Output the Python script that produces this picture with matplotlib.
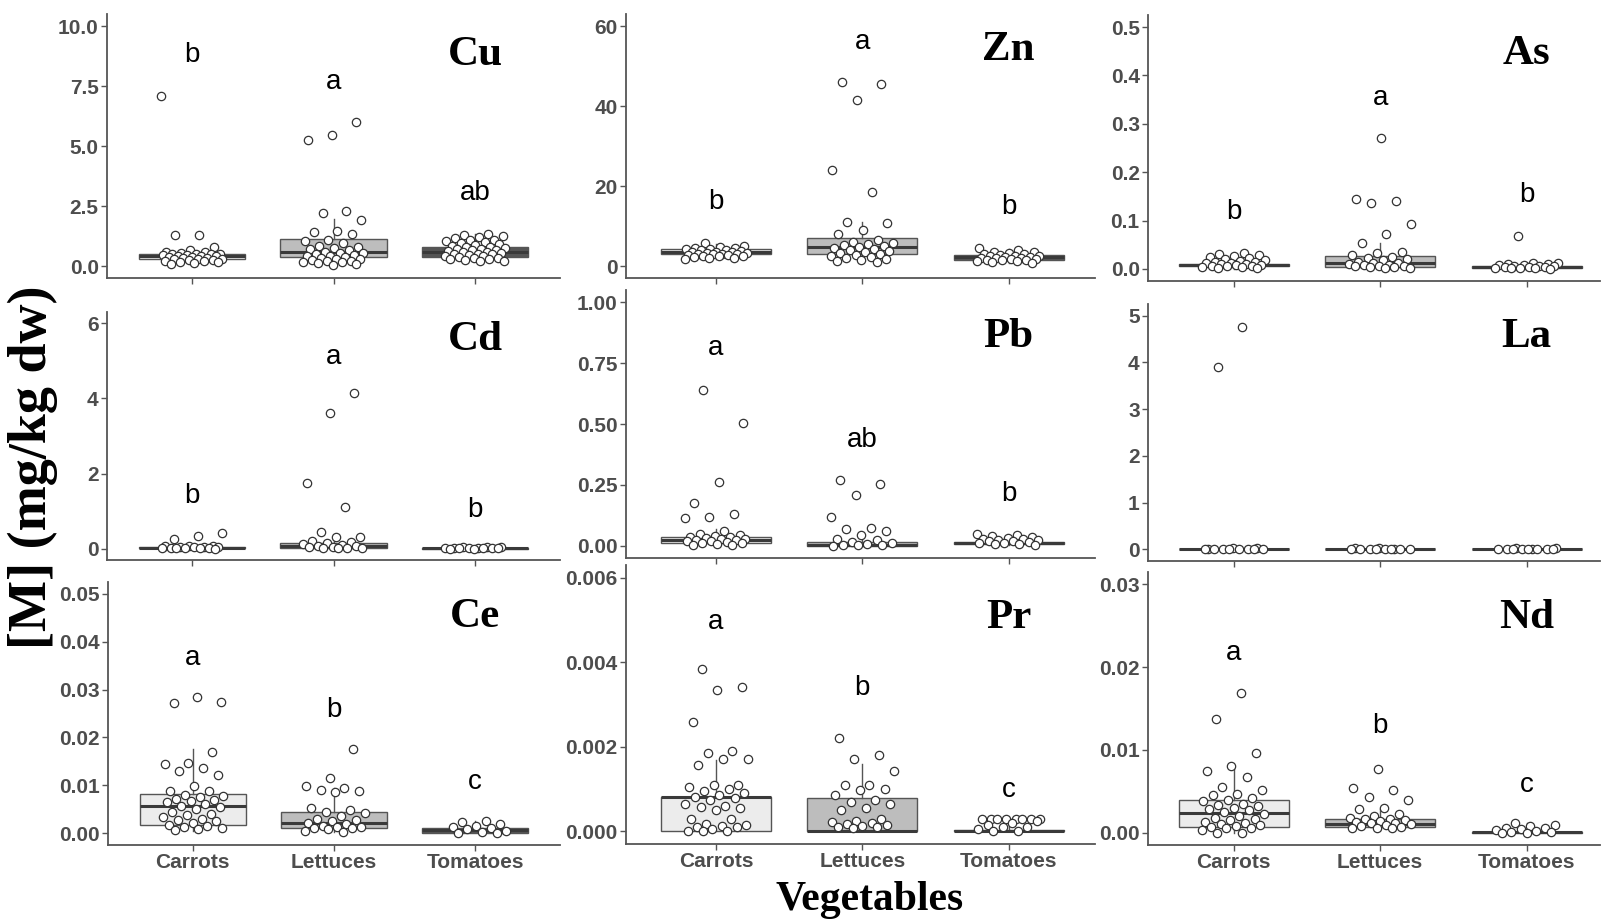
import numpy as np
import matplotlib
matplotlib.use('Agg')
import matplotlib.pyplot as plt

# categories and colours
vegetables = ['Carrots', 'Lettuces', 'Tomatoes']
box_fill = ['#ececec', '#bdbdbd', '#555555']

# --- Cu ---
cu_carrots = [7.1, 1.3, 1.28, 0.8, 0.65, 0.6, 0.58, 0.55, 0.52, 0.5, 0.5, 0.48, 0.45, 0.45, 0.42,
              0.4, 0.4, 0.38, 0.36, 0.35, 0.33, 0.3, 0.3, 0.28, 0.25, 0.25, 0.22, 0.2, 0.18, 0.15, 0.12, 0.1]
cu_lettuces = [6.0, 5.45, 5.25, 2.3, 2.2, 1.9, 1.45, 1.4, 1.35, 1.1, 1.05, 0.95, 0.85, 0.8, 0.75, 0.7,
               0.65, 0.6, 0.55, 0.55, 0.5, 0.45, 0.42, 0.4, 0.38, 0.35, 0.3, 0.28, 0.25, 0.22, 0.2,
               0.18, 0.15, 0.12, 0.1, 0.05]
cu_tomatoes = [1.35, 1.3, 1.25, 1.2, 1.15, 1.1, 1.1, 1.05, 1.0, 0.95, 0.9, 0.88, 0.85, 0.8, 0.78, 0.75,
               0.72, 0.7, 0.68, 0.65, 0.62, 0.6, 0.58, 0.55, 0.52, 0.5, 0.48, 0.45, 0.42, 0.4, 0.38,
               0.35, 0.32, 0.3, 0.28, 0.25, 0.22, 0.2]
cu_box = [[0.42, 0.28, 0.49, 0.1, 0.8], [0.6, 0.375, 1.11, 0.05, 1.94], [0.6, 0.39, 0.79, 0.2, 1.35]]
cu_letters = ['b', 'a', 'ab']
cu_letter_y = [8.8, 7.67, 3.04]

# --- Zn ---
zn_carrots = [5.8, 5.0, 4.8, 4.6, 4.5, 4.3, 4.2, 4.0, 3.9, 3.8, 3.6, 3.5, 3.4, 3.3, 3.2, 3.1, 3.0, 3.0,
              2.9, 2.8, 2.7, 2.6, 2.5, 2.4, 2.2, 2.0, 1.9, 1.7]
zn_lettuces = [46.0, 45.5, 41.5, 24.0, 18.5, 11.0, 10.8, 9.0, 8.0, 6.5, 6.0, 5.8, 5.5, 5.2, 5.0, 4.8,
               4.5, 4.2, 4.0, 3.8, 3.5, 3.2, 3.0, 2.8, 2.5, 2.2, 2.0, 1.8, 1.5, 1.2, 1.0]
zn_tomatoes = [4.5, 4.0, 3.6, 3.4, 3.2, 3.0, 2.9, 2.8, 2.6, 2.5, 2.4, 2.3, 2.2, 2.1, 2.0, 1.9, 1.8,
               1.7, 1.6, 1.5, 1.4, 1.3, 1.2, 1.0, 0.8]
zn_box = [[3.5, 2.9, 4.3, 1.7, 5.4], [4.75, 2.9, 7.0, 1.0, 11.0], [2.2, 1.6, 2.75, 0.8, 4.3]]
zn_letters = ['b', 'a', 'b']
zn_letter_y = [16, 56, 14.75]

# --- As ---
as_carrots = [0.033, 0.03, 0.028, 0.027, 0.025, 0.022, 0.02, 0.018, 0.017, 0.015, 0.014, 0.013, 0.012,
              0.011, 0.01, 0.009, 0.008, 0.007, 0.006, 0.005, 0.004, 0.003, 0.002, 0.001]
as_lettuces = [0.27, 0.145, 0.14, 0.137, 0.092, 0.072, 0.053, 0.035, 0.032, 0.028, 0.025, 0.022, 0.02,
               0.018, 0.015, 0.013, 0.012, 0.01, 0.009, 0.008, 0.007, 0.006, 0.005, 0.004, 0.003, 0.002, 0.001]
as_tomatoes = [0.069, 0.013, 0.012, 0.011, 0.01, 0.009, 0.008, 0.007, 0.006, 0.005, 0.004, 0.003, 0.003,
               0.002, 0.002, 0.001, 0.001, 0.0]
as_box = [[0.008, 0.0055, 0.0104, 0.0, 0.02], [0.0125, 0.0049, 0.0257, 0.0, 0.053],
          [0.0035, 0.0014, 0.0056, 0.0, 0.012]]
as_letters = ['b', 'a', 'b']
as_letter_y = [0.117, 0.354, 0.152]

# --- Cd ---
cd_carrots = [0.42, 0.35, 0.25, 0.08, 0.07, 0.06, 0.05, 0.05, 0.04, 0.04, 0.03, 0.03, 0.02, 0.02,
              0.01, 0.01, 0.005]
cd_lettuces = [4.15, 3.62, 1.75, 1.1, 0.45, 0.32, 0.3, 0.2, 0.17, 0.15, 0.12, 0.1, 0.08, 0.06, 0.05,
               0.04, 0.03, 0.02, 0.01, 0.01]
cd_tomatoes = [0.05, 0.04, 0.035, 0.03, 0.025, 0.02, 0.018, 0.015, 0.012, 0.01, 0.008, 0.005, 0.003]
cd_box = [[0.02, 0.01, 0.04, 0.0, 0.08], [0.07, 0.03, 0.15, 0.0, 0.3], [0.012, 0.005, 0.025, 0.0, 0.05]]
cd_letters = ['b', 'a', 'b']
cd_letter_y = [1.39, 5.09, 1.04]

# --- Pb ---
pb_carrots = [0.64, 0.505, 0.26, 0.175, 0.13, 0.12, 0.115, 0.06, 0.05, 0.045, 0.04, 0.038, 0.035,
              0.032, 0.03, 0.028, 0.025, 0.022, 0.02, 0.018, 0.015, 0.012, 0.01, 0.008, 0.005, 0.003]
pb_lettuces = [0.27, 0.255, 0.21, 0.12, 0.075, 0.07, 0.06, 0.045, 0.03, 0.025, 0.015, 0.01, 0.008,
               0.005, 0.003, 0.002, 0.001]
pb_tomatoes = [0.05, 0.045, 0.04, 0.035, 0.032, 0.03, 0.028, 0.025, 0.022, 0.02, 0.018, 0.015, 0.012,
               0.01, 0.008, 0.006, 0.004]
pb_box = [[0.023, 0.0096, 0.037, 0.0, 0.07], [0.003, 0.0, 0.014, 0.0, 0.03], [0.012, 0.007, 0.015, 0.003, 0.025]]
pb_letters = ['a', 'ab', 'b']
pb_letter_y = [0.81, 0.434, 0.213]

# --- La ---
la_carrots = [4.75, 3.9, 0.02, 0.02, 0.015, 0.015, 0.01, 0.01, 0.01, 0.008, 0.006, 0.005, 0.004]
la_lettuces = [0.02, 0.018, 0.015, 0.012, 0.01, 0.01, 0.008, 0.006, 0.005, 0.004, 0.003]
la_tomatoes = [0.02, 0.018, 0.015, 0.012, 0.01, 0.01, 0.008, 0.006, 0.005, 0.004, 0.003]
la_box = [[0.005, 0.002, 0.01, 0.0, 0.02], [0.005, 0.002, 0.01, 0.0, 0.02], [0.005, 0.002, 0.01, 0.0, 0.02]]
la_letters = ['', '', '']
la_letter_y = [0, 0, 0]

# --- Ce ---
ce_carrots = [0.0275, 0.0285, 0.0273, 0.017, 0.0147, 0.0145, 0.0137, 0.013, 0.0122, 0.0098, 0.0088,
              0.0087, 0.008, 0.0078, 0.0075, 0.0072, 0.007, 0.0067, 0.0065, 0.006, 0.0057, 0.0055,
              0.005, 0.0045, 0.004, 0.0038, 0.0033, 0.003, 0.0028, 0.0025, 0.002, 0.0017, 0.0015,
              0.0012, 0.001, 0.0008, 0.0007]
ce_lettuces = [0.0175, 0.0116, 0.0098, 0.0095, 0.009, 0.0087, 0.0085, 0.0052, 0.0048, 0.0045, 0.0042,
               0.0035, 0.003, 0.0027, 0.0025, 0.002, 0.0018, 0.0015, 0.0013, 0.0012, 0.0011, 0.001,
               0.0008, 0.0005, 0.0003]
ce_tomatoes = [0.0025, 0.0024, 0.0018, 0.0015, 0.0012, 0.001, 0.0008, 0.0005, 0.0003, 0.0001, 0.0]
ce_box = [[0.0057, 0.0016, 0.0082, 0.0005, 0.0175], [0.0021, 0.00105, 0.0045, 0.0003, 0.0094],
          [0.0006, 0.0001, 0.00105, 0.0, 0.0025]]
ce_letters = ['a', 'b', 'c']
ce_letter_y = [0.0366, 0.0257, 0.0107]

# --- Pr ---
pr_carrots = [0.00383, 0.00342, 0.00335, 0.00258, 0.0019, 0.00185, 0.00172, 0.0017, 0.00158, 0.0011,
              0.0011, 0.00105, 0.001, 0.00095, 0.0009, 0.00085, 0.0008, 0.00078, 0.00075, 0.00065,
              0.0006, 0.00058, 0.00055, 0.0005, 0.0003, 0.0003, 0.00018, 0.00015, 0.00012, 0.0001,
              0.0001, 0.00005, 0.0, 0.0, 0.0]
pr_lettuces = [0.0022, 0.0018, 0.0017, 0.00143, 0.0011, 0.0011, 0.001, 0.00098, 0.00085, 0.00075,
               0.0007, 0.00065, 0.00055, 0.0005, 0.0003, 0.00025, 0.00022, 0.0002, 0.00018, 0.00015,
               0.00012, 0.0001, 0.0001, 0.00008]
pr_tomatoes = [0.0003, 0.0003, 0.0003, 0.0003, 0.0003, 0.0003, 0.0003, 0.0003, 0.00025, 0.0002,
               0.00015, 0.0001, 0.0001, 0.00005, 0.0, 0.0]
pr_box = [[0.0008, 0.0, 0.00081, 0.0, 0.00168], [0.00001, 0.0, 0.00079, 0.0, 0.0016],
          [0.0, 0.0, 0.00002, 0.0, 0.0003]]
pr_letters = ['a', 'b', 'c']
pr_letter_y = [0.00496, 0.00339, 0.00097]

# --- Nd ---
nd_carrots = [0.0169, 0.0137, 0.0096, 0.008, 0.0075, 0.0067, 0.0055, 0.0052, 0.0047, 0.0045, 0.0042,
              0.004, 0.0038, 0.0035, 0.0033, 0.0032, 0.003, 0.0028, 0.0027, 0.0025, 0.0022, 0.002,
              0.0018, 0.0017, 0.0015, 0.0013, 0.0012, 0.001, 0.0009, 0.0008, 0.0007, 0.0006, 0.0005,
              0.0003, 0.0, 0.0]
nd_lettuces = [0.0077, 0.0054, 0.0052, 0.0043, 0.0039, 0.003, 0.0029, 0.0022, 0.002, 0.0018, 0.0017,
               0.0016, 0.0015, 0.0014, 0.0013, 0.0012, 0.0011, 0.001, 0.0009, 0.0008, 0.0007, 0.0006,
               0.0005, 0.0005]
nd_tomatoes = [0.0011, 0.0009, 0.0008, 0.0006, 0.0005, 0.0004, 0.0003, 0.0002, 0.0001, 0.0001, 0.0, 0.0]
nd_box = [[0.0024, 0.00073, 0.0039, 0.0, 0.008], [0.001, 0.00073, 0.0016, 0.0003, 0.0029],
          [0.00003, 0.0, 0.00006, 0.0, 0.0011]]
nd_letters = ['a', 'b', 'c']
nd_letter_y = [0.0217, 0.0129, 0.0057]

# y ticks per element
cu_ticks = [0, 2.5, 5, 7.5, 10];          cu_ticklabels = ['0.0', '2.5', '5.0', '7.5', '10.0']
zn_ticks = [0, 20, 40, 60];               zn_ticklabels = ['0', '20', '40', '60']
as_ticks = [0, 0.1, 0.2, 0.3, 0.4, 0.5];  as_ticklabels = ['0.0', '0.1', '0.2', '0.3', '0.4', '0.5']
cd_ticks = [0, 2, 4, 6];                  cd_ticklabels = ['0', '2', '4', '6']
pb_ticks = [0, 0.25, 0.5, 0.75, 1.0];     pb_ticklabels = ['0.00', '0.25', '0.50', '0.75', '1.00']
la_ticks = [0, 1, 2, 3, 4, 5];            la_ticklabels = ['0', '1', '2', '3', '4', '5']
ce_ticks = [0, 0.01, 0.02, 0.03, 0.04, 0.05]; ce_ticklabels = ['0.00', '0.01', '0.02', '0.03', '0.04', '0.05']
pr_ticks = [0, 0.002, 0.004, 0.006];      pr_ticklabels = ['0.000', '0.002', '0.004', '0.006']
nd_ticks = [0, 0.01, 0.02, 0.03];         nd_ticklabels = ['0.00', '0.01', '0.02', '0.03']

# name, points, box stats, letters, letter heights, y max, ticks, ticklabels, title height
panels = [
    ('Cu', [cu_carrots, cu_lettuces, cu_tomatoes], cu_box, cu_letters, cu_letter_y, 10, cu_ticks, cu_ticklabels, 8.8),
    ('Zn', [zn_carrots, zn_lettuces, zn_tomatoes], zn_box, zn_letters, zn_letter_y, 60, zn_ticks, zn_ticklabels, 54),
    ('As', [as_carrots, as_lettuces, as_tomatoes], as_box, as_letters, as_letter_y, 0.5, as_ticks, as_ticklabels, 0.444),
    ('Cd', [cd_carrots, cd_lettuces, cd_tomatoes], cd_box, cd_letters, cd_letter_y, 6, cd_ticks, cd_ticklabels, 5.55),
    ('Pb', [pb_carrots, pb_lettuces, pb_tomatoes], pb_box, pb_letters, pb_letter_y, 1.0, pb_ticks, pb_ticklabels, 0.857),
    ('La', [la_carrots, la_lettuces, la_tomatoes], la_box, la_letters, la_letter_y, 5, la_ticks, la_ticklabels, 4.55),
    ('Ce', [ce_carrots, ce_lettuces, ce_tomatoes], ce_box, ce_letters, ce_letter_y, 0.05, ce_ticks, ce_ticklabels, 0.0452),
    ('Pr', [pr_carrots, pr_lettuces, pr_tomatoes], pr_box, pr_letters, pr_letter_y, 0.006, pr_ticks, pr_ticklabels, 0.00505),
    ('Nd', [nd_carrots, nd_lettuces, nd_tomatoes], nd_box, nd_letters, nd_letter_y, 0.03, nd_ticks, nd_ticklabels, 0.026),
]

# panel frames in pixels: x0, x1, ytop, ybottom
W, H = 1602, 922
frames = [
    (107, 560, 14, 278), (626, 1095, 14, 278), (1148, 1600, 15, 281),
    (107, 560, 312, 560), (626, 1095, 290, 558), (1148, 1600, 304, 561),
    (108, 560, 582, 845), (626, 1095, 565, 844), (1148, 1600, 572, 845),
]
xlims = [(0.40, 3.60), (0.386, 3.59), (0.415, 3.50)]

sans = 'Liberation Sans'
serif = 'Liberation Serif'
grey_txt = '#4d4d4d'
line_col = '#555555'


def jitter(n, k):
    # spread points sideways like geom_jitter, but deterministic
    return ((np.arange(n) + k) * 0.6180339887 % 1.0 - 0.5) * 0.44


fig = plt.figure(figsize=(W / 100, H / 100), dpi=100)
fig.patch.set_facecolor('white')

for i, (name, pts, box, letters, ly, ymax, ticks, tlabels, ty) in enumerate(panels):
    x0, x1, yt, yb = frames[i]
    ax = fig.add_axes([x0 / W, 1 - yb / H, (x1 - x0) / W, (yb - yt) / H])
    col = i % 3
    row = i // 3

    stats = [dict(med=b[0], q1=b[1], q3=b[2], whislo=b[3], whishi=b[4]) for b in box]
    bp = ax.bxp(stats, positions=[1, 2, 3], widths=0.75, patch_artist=True,
                showfliers=False, showcaps=False,
                boxprops=dict(edgecolor=line_col, linewidth=1.0),
                whiskerprops=dict(color=line_col, linewidth=1.0),
                medianprops=dict(color='#3a3a3a', linewidth=2.2))
    for patch, fc in zip(bp['boxes'], box_fill):
        patch.set_facecolor(fc)

    for j, vals in enumerate(pts):
        vals = np.array(vals)
        xs = (j + 1) + jitter(len(vals), 7 * i + 3 * j)
        ax.plot(xs, vals, 'o', ms=6.0, mfc='white', mec='#333333', mew=0.9, zorder=5)
        if letters[j]:
            ax.text(j + 1, ly[j], letters[j], ha='center', va='center',
                    fontsize=20, family=sans, color='black')

    ax.text(3, ty, name, ha='center', va='center', fontsize=31,
            family=serif, fontweight='bold', color='black')

    ax.set_xlim(*xlims[col])
    ax.set_ylim(-0.05 * ymax, 1.05 * ymax)
    ax.set_yticks(ticks)
    ax.set_yticklabels(tlabels, fontsize=15, fontweight='bold', family=sans, color=grey_txt)
    ax.set_xticks([1, 2, 3])
    if row == 2:
        ax.set_xticklabels(vegetables, fontsize=15, fontweight='bold', family=sans, color=grey_txt)
    else:
        ax.set_xticklabels([])
    for s in ['top', 'right']:
        ax.spines[s].set_visible(False)
    for s in ['left', 'bottom']:
        ax.spines[s].set_color(line_col)
        ax.spines[s].set_linewidth(1.3)
    ax.tick_params(length=4, width=1, color=line_col, pad=2)

fig.text(33 / W, 1 - 467 / H, '[M] (mg/kg dw)', rotation=90, ha='center', va='center',
         fontsize=39, fontweight='bold', family=serif)
fig.text(870 / W, 1 - 900 / H, 'Vegetables', ha='center', va='center',
         fontsize=30, fontweight='bold', family=serif)

fig.savefig('out.png', dpi=100, facecolor='white')
